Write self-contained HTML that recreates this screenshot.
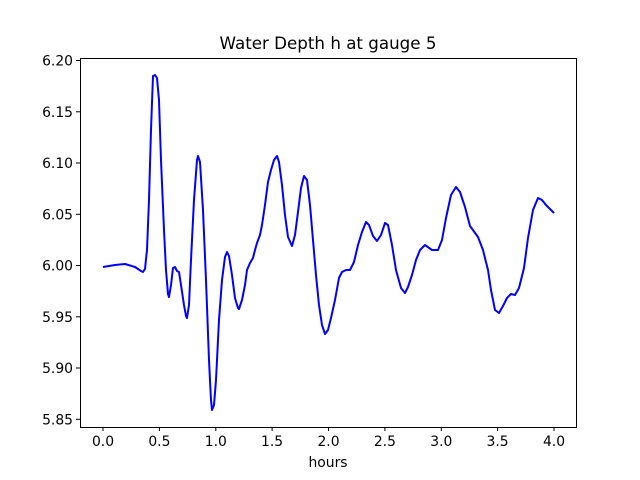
<!DOCTYPE html>
<html><head><meta charset="utf-8"><style>body{margin:0;background:#fff}svg{display:block}text{font-family:"DejaVu Sans","Liberation Sans",sans-serif;font-size:13.9px;fill:#000}</style></head>
<body>
<svg width="640" height="480" xmlns="http://www.w3.org/2000/svg">
<rect width="640" height="480" fill="#fff"/>
<text x="328" y="49" text-anchor="middle" style="font-size:16.7px">Water Depth h at gauge 5</text>
<polyline fill="none" stroke="#0000ff" stroke-width="2" stroke-linejoin="round" points="103,267 115,265 125,264 135,267 141,271 143,272 145,269 147,250 149,200 151,130 153,76 155,75 157,78 159,100 161,160 164,230 166,270 168,294 169,297 171,285 173,268 175,267 177,271 179,272 181,285 184,305 186,316 187,318 189,305 191,260 194,200 197,160 198,156 200,162 203,210 206,280 209,360 211,400 212,410 214,405 216,380 219,320 222,280 225,257 227,252 229,256 232,275 235,298 238,308 239,309 242,300 245,285 247,270 250,263 253,258 255,250 257,243 260,235 262,225 265,205 268,182 271,170 274,160 277,156 279,162 282,185 285,215 288,237 292,246 295,235 298,212 301,188 304,176 307,180 310,205 313,240 316,275 319,305 322,325 325,334 328,330 331,318 335,300 339,278 342,272 346,270 350,270 354,262 358,245 362,232 366,222 369,225 373,236 377,241 381,235 385,223 388,225 392,245 396,270 401,288 405,293 408,287 412,275 416,260 420,250 425,245 432,250 438,250 442,240 446,218 451,195 456,187 460,192 465,207 470,226 478,237 483,250 488,270 491,290 495,310 499,313 503,306 507,298 511,294 515,295 519,288 524,268 528,238 533,210 538,198 542,200 546,205 551,210 554,213"/>
<rect x="80.5" y="58.5" width="496" height="369" fill="none" stroke="#000" stroke-width="1"/>
<g stroke="#000" stroke-width="1">
<line x1="103" y1="427" x2="103" y2="431"/><line x1="159.4" y1="427" x2="159.4" y2="431"/><line x1="215.8" y1="427" x2="215.8" y2="431"/><line x1="272.1" y1="427" x2="272.1" y2="431"/><line x1="328.5" y1="427" x2="328.5" y2="431"/><line x1="384.9" y1="427" x2="384.9" y2="431"/><line x1="441.3" y1="427" x2="441.3" y2="431"/><line x1="497.6" y1="427" x2="497.6" y2="431"/><line x1="554" y1="427" x2="554" y2="431"/>
<line x1="76" y1="60.5" x2="80" y2="60.5"/><line x1="76" y1="111.8" x2="80" y2="111.8"/><line x1="76" y1="163" x2="80" y2="163"/><line x1="76" y1="214.3" x2="80" y2="214.3"/><line x1="76" y1="265.5" x2="80" y2="265.5"/><line x1="76" y1="316.8" x2="80" y2="316.8"/><line x1="76" y1="368" x2="80" y2="368"/><line x1="76" y1="419.3" x2="80" y2="419.3"/>
</g>
<g text-anchor="middle">
<text x="103" y="446">0.0</text><text x="159.4" y="446">0.5</text><text x="215.8" y="446">1.0</text><text x="272.1" y="446">1.5</text><text x="328.5" y="446">2.0</text><text x="384.9" y="446">2.5</text><text x="441.3" y="446">3.0</text><text x="497.6" y="446">3.5</text><text x="554" y="446">4.0</text>
<text x="328" y="467">hours</text>
</g>
<g text-anchor="end">
<text x="73" y="65.5">6.20</text><text x="73" y="116.8">6.15</text><text x="73" y="168">6.10</text><text x="73" y="219.3">6.05</text><text x="73" y="270.5">6.00</text><text x="73" y="321.8">5.95</text><text x="73" y="373">5.90</text><text x="73" y="424.3">5.85</text>
</g>
</svg>
</body></html>
